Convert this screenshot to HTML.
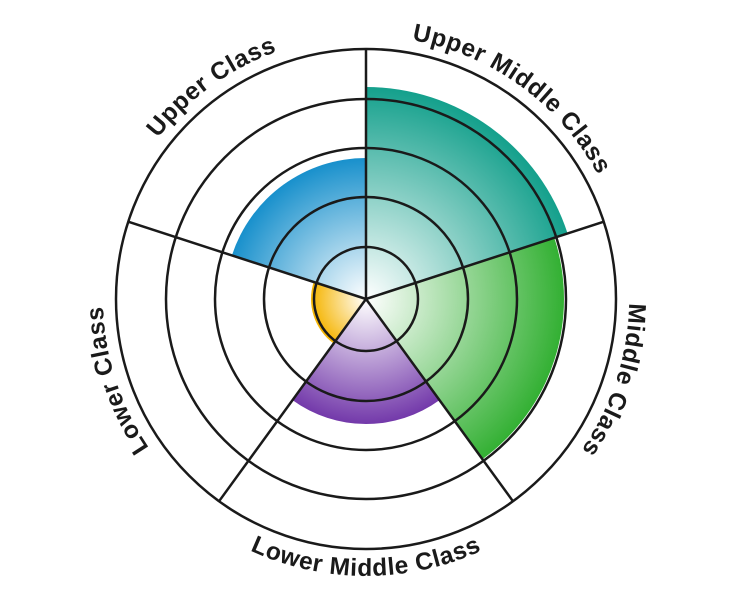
<!DOCTYPE html>
<html><head><meta charset="utf-8"><style>
html,body{margin:0;padding:0;background:#fff;}
svg{display:block;}
text{font-family:"Liberation Sans","DejaVu Sans",sans-serif;font-weight:bold;font-size:24.5px;fill:#1a1a1a;letter-spacing:0.6px;}
</style></head><body>
<svg width="732" height="600" viewBox="0 0 732 600">
<defs>
<radialGradient id="gT" gradientUnits="userSpaceOnUse" cx="366" cy="299" r="212"><stop offset="0" stop-color="#fff"/><stop offset="1" stop-color="#14a08c"/></radialGradient>
<radialGradient id="gG" gradientUnits="userSpaceOnUse" cx="366" cy="299" r="198"><stop offset="0" stop-color="#fff"/><stop offset="1" stop-color="#33b033"/></radialGradient>
<radialGradient id="gP" gradientUnits="userSpaceOnUse" cx="366" cy="299" r="125"><stop offset="0" stop-color="#fff"/><stop offset="1" stop-color="#7339aa"/></radialGradient>
<radialGradient id="gY" gradientUnits="userSpaceOnUse" cx="366" cy="299" r="55"><stop offset="0" stop-color="#fff"/><stop offset="1" stop-color="#f5b400"/></radialGradient>
<radialGradient id="gB" gradientUnits="userSpaceOnUse" cx="366" cy="299" r="141"><stop offset="0" stop-color="#fff"/><stop offset="1" stop-color="#1890cc"/></radialGradient>
<path id="cw" d="M629,299 A263,263 0 1,1 103,299 A263,263 0 1,1 629,299"/>
<path id="ccw" d="M89,299 A277,277 0 0,0 643,299"/>
</defs>
<path d="M366,299 L366,87 A212,212 0 0,1 567.6,233.5 Z" fill="url(#gT)"/>
<path d="M366,299 L554.3,237.8 A198,198 0 0,1 482.4,459.2 Z" fill="url(#gG)"/>
<path d="M366,299 L439.5,400.1 A125,125 0 0,1 292.5,400.1 Z" fill="url(#gP)"/>
<path d="M366,299 L333.7,343.5 A55,55 0 0,1 313.7,282 Z" fill="url(#gY)"/>
<path d="M366,299 L231.9,255.4 A141,141 0 0,1 366,158 Z" fill="url(#gB)"/>
<g fill="none" stroke="#1a1a1a" stroke-width="2.5">
<circle cx="366" cy="299" r="250"/>
<circle cx="366" cy="299" r="200"/>
<circle cx="366" cy="299" r="151"/>
<circle cx="366" cy="299" r="102"/>
<circle cx="366" cy="299" r="52"/>
<line x1="366" y1="299" x2="366" y2="49"/>
<line x1="366" y1="299" x2="603.8" y2="221.7"/>
<line x1="366" y1="299" x2="513" y2="501.3"/>
<line x1="366" y1="299" x2="219" y2="501.3"/>
<line x1="366" y1="299" x2="128.2" y2="221.7"/>
</g>
<text><textPath href="#cw" startOffset="5%" text-anchor="middle">Middle Class</textPath></text>
<text><textPath href="#cw" startOffset="45%" text-anchor="middle">Lower Class</textPath></text>
<text><textPath href="#cw" startOffset="65%" text-anchor="middle">Upper Class</textPath></text>
<text><textPath href="#cw" startOffset="85%" text-anchor="middle">Upper Middle Class</textPath></text>
<text><textPath href="#ccw" startOffset="50%" text-anchor="middle">Lower Middle Class</textPath></text>
</svg>
</body></html>
